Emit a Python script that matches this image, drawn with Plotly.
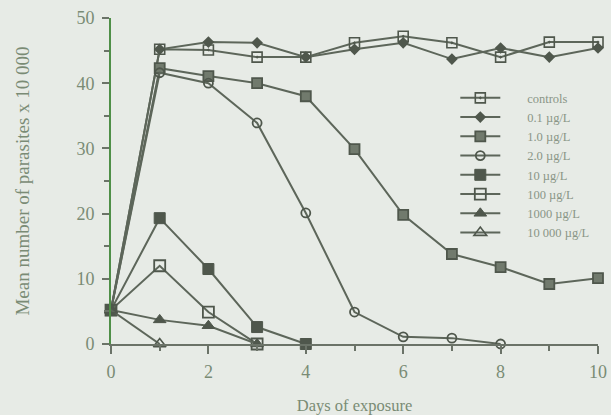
import plotly.graph_objects as go

# Exposure time (days)
days = [0, 1, 2, 3, 4, 5, 6, 7, 8, 9, 10]

# Mean number of parasites (x 10 000) for each concentration
controls = [5.2, 45.2, 45.1, 44.0, 44.0, 46.2, 47.2, 46.2, 44.0, 46.3, 46.3]
conc_0_1 = [5.2, 45.2, 46.3, 46.2, 44.0, 45.2, 46.2, 43.7, 45.4, 44.0, 45.4]
conc_1_0 = [5.2, 42.3, 41.1, 40.0, 38.0, 29.9, 19.8, 13.8, 11.8, 9.2, 10.1]
conc_2_0 = [5.2, 41.6, 40.0, 33.9, 20.1, 4.9, 1.1, 0.9, 0.0]
conc_10 = [5.2, 19.3, 11.5, 2.6, 0.0]
conc_100 = [5.2, 12.0, 4.9, 0.0]
conc_1000 = [5.2, 3.7, 2.8, 0.0]
conc_10000 = [5.2, 0.0]

names = ["controls", "0.1 µg/L", "1.0 µg/L", "2.0 µg/L", "10 µg/L",
         "100 µg/L", "1000 µg/L", "10 000 µg/L"]

LINE = "#5d665a"
DARK = "#4f574c"
BG = "#e7ebe6"
TEXT = "#7a8b75"
AXIS = "#6b7368"
GREEN = "#4f8f48"

series = [
    (controls, dict(symbol="square-open-dot", size=10, color=DARK, line=dict(width=1.6, color=DARK))),
    (conc_0_1, dict(symbol="diamond", size=9, color=DARK, line=dict(width=0))),
    (conc_1_0, dict(symbol="square", size=10, color="#717a6d", line=dict(width=1.8, color=DARK))),
    (conc_2_0, dict(symbol="circle-open", size=9, color=DARK, line=dict(width=1.8, color=DARK))),
    (conc_10, dict(symbol="square", size=11, color=DARK, line=dict(width=1, color=DARK))),
    (conc_100, dict(symbol="square-open", size=11, color=DARK, line=dict(width=1.8, color=DARK))),
    (conc_1000, dict(symbol="triangle-up", size=11, color=DARK, line=dict(width=1, color=DARK))),
    (conc_10000, dict(symbol="triangle-up-open", size=11, color=DARK, line=dict(width=1.6, color=DARK))),
]

# legend labels sit a little further from their line samples
pad = "\u00a0" * 7

fig = go.Figure()
for name, (vals, marker) in zip(names, series):
    fig.add_trace(go.Scatter(
        x=days[:len(vals)], y=vals, name=pad + name, mode="lines+markers",
        line=dict(color=LINE, width=2), marker=marker, cliponaxis=False,
    ))

fig.update_layout(
    width=611, height=415,
    margin=dict(l=111, r=13, t=18, b=71),
    paper_bgcolor=BG, plot_bgcolor=BG,
    font=dict(family="Liberation Serif", color=TEXT, size=15),
    showlegend=True,
    legend=dict(
        x=0.707, y=0.80, xanchor="left", yanchor="top",
        bgcolor="rgba(0,0,0,0)", font=dict(size=12.5, color="#8a9686"),
        tracegroupgap=0, itemwidth=40,
    ),
    xaxis=dict(
        range=[0, 10], showgrid=False, zeroline=False, automargin=False,
        showline=True, linecolor=AXIS, linewidth=2,
        ticks="outside", tickcolor=AXIS, ticklen=8, tickwidth=2,
        dtick=2, tick0=0, ticklabelstandoff=2,
        minor=dict(dtick=1, ticks="outside", ticklen=5, tickcolor=AXIS, tickwidth=2),
        title=dict(text="Days of exposure", standoff=19, font=dict(size=16.5)),
        tickfont=dict(size=18),
    ),
    yaxis=dict(
        range=[0, 50], showgrid=False, zeroline=False, automargin=False,
        showline=True, linecolor=GREEN, linewidth=2,
        ticks="outside", tickcolor=AXIS, ticklen=7, tickwidth=2,
        dtick=10, tick0=0, ticklabelstandoff=4,
        minor=dict(dtick=5, ticks="outside", ticklen=5, tickcolor=AXIS, tickwidth=2),
        title=dict(text="Mean number of parasites x 10 000", standoff=42, font=dict(size=19)),
        tickfont=dict(size=18),
    ),
)

fig.write_html("out.html")
